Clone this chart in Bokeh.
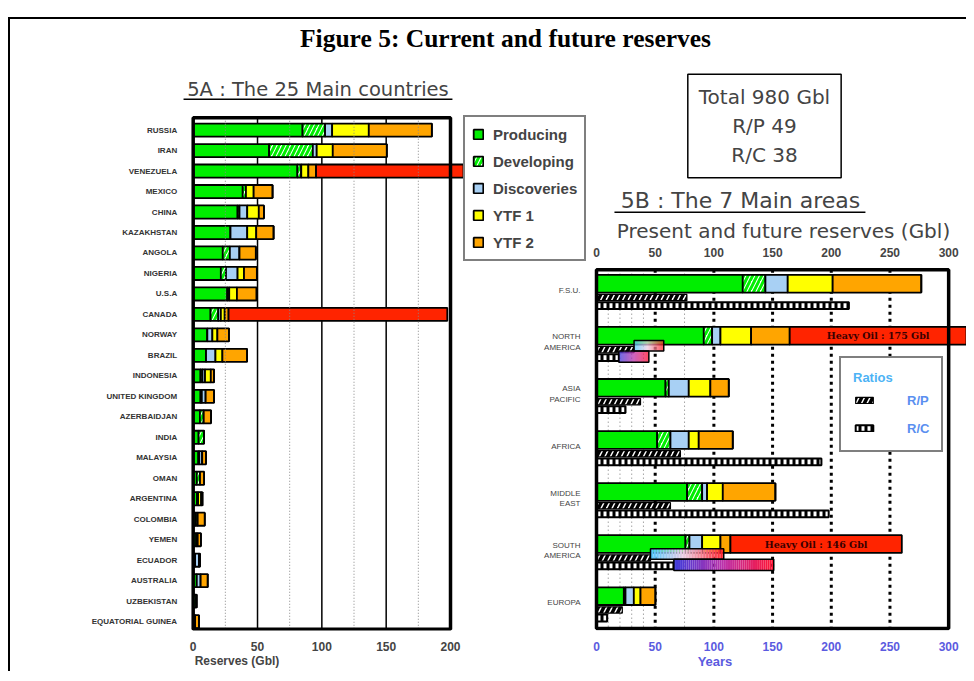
import numpy as np
from bokeh.plotting import figure
from bokeh.models import (ColumnDataSource, Range1d, FixedTicker, Label, BoxAnnotation,
                          Legend, LegendItem, LinearAxis, Div)
from bokeh.layouts import column, row
from bokeh.embed import file_html
from bokeh.resources import INLINE
from bokeh.core.properties import value

# ---------------- 5A : the 25 main countries (Gbl) ----------------
countries = ["RUSSIA", "IRAN", "VENEZUELA", "MEXICO", "CHINA", "KAZAKHSTAN", "ANGOLA",
             "NIGERIA", "U.S.A", "CANADA", "NORWAY", "BRAZIL", "INDONESIA",
             "UNITED KINGDOM", "AZERBAIDJAN", "INDIA", "MALAYSIA", "OMAN", "ARGENTINA",
             "COLOMBIA", "YEMEN", "ECUADOR", "AUSTRALIA", "UZBEKISTAN", "EQUATORIAL GUINEA"]
c_producing = [85, 59, 81, 38.5, 34.5, 29, 23, 21.5, 26.5, 13.5, 11, 10, 5.7, 5.7, 5.2,
               4.2, 4, 2.8, 3, 2, 2.3, 1.5, 2.8, 0, 0]
c_developing = [17.5, 34, 3, 2.5, 1.5, 0, 5.5, 4, 1.5, 6, 0, 0, 1.5, 1, 3,
                4.3, 0.7, 2.5, 0.8, 1.5, 1.2, 0, 0, 2.5, 1.5]
c_discoveries = [5.5, 3, 0, 0, 6, 13, 7.5, 9, 0, 2, 3.9, 7.3, 2, 3, 0,
                 0, 2.3, 0, 0, 0, 0, 3, 3, 0, 0]
c_ytf1 = [28.5, 12.5, 5.5, 6, 9, 7, 0, 5, 6, 3, 3.9, 5.4, 4.5, 0, 0,
          0, 0, 0, 2.4, 0, 0, 0, 0, 0, 0]
c_ytf2 = [49, 42, 6, 14.7, 4, 13.5, 12.7, 10, 15.3, 3, 9, 19.2, 2.5, 6.5, 5.7,
          0, 3, 3.2, 1, 5.5, 2.5, 0.8, 5.5, 0, 3]
c_heavy = [0, 0, 150, 0, 0, 0, 0, 0, 0, 170, 0, 0, 0, 0, 0,
           0, 0, 0, 0, 0, 0, 0, 0, 0, 0]
x_ticks_5a = [0, 50, 100, 150, 200]
grid_solid_5a = [50, 100, 150]
grid_dotted_5a = [25, 75, 125, 175]

# ---------------- 5B : the 7 main areas ----------------
areas = ["F.S.U.", "NORTH\nAMERICA", "ASIA\nPACIFIC", "AFRICA", "MIDDLE\nEAST",
         "SOUTH\nAMERICA", "EUROPA"]
a_producing = [124.6, 91.4, 58.8, 51.7, 77.2, 75.8, 23.3]
a_developing = [19.3, 7.1, 2.8, 11.3, 12.8, 3.4, 1.4]
a_discoveries = [19, 7.1, 17, 15.6, 4.2, 10.8, 7.1]
a_ytf1 = [38.3, 26.1, 18.4, 8.5, 13.4, 15.6, 5.7]
a_ytf2 = [75.5, 32.9, 15.7, 29, 44.8, 8.5, 12.7]
a_heavy = [0, 175, 0, 0, 0, 146, 0]
a_rp = [77, 32, 37.5, 71.5, 63, 46, 22]            # years
a_rc = [215, 19, 24.7, 191.6, 197.8, 65.9, 9.1]     # years
a_rp_heavy = [0, 57.3, 0, 0, 0, 108.4, 0]
a_rc_heavy = [0, 44.6, 0, 0, 0, 151, 0]
heavy_text = ["", "Heavy Oil : 175 Gbl", "", "", "", "Heavy Oil : 146 Gbl", ""]
x_ticks_5b = [0, 50, 100, 150, 200, 250, 300]
grid_thick_5b = [50, 100, 150, 200, 250]
grid_thin_5b = [10, 20, 30, 40, 75]
summary = ["Total 980 Gbl", "R/P 49", "R/C 38"]

GREEN, BLUE, YELLOW, ORANGE, RED = "#00ee00", "#a8d0f4", "#ffff00", "#ffa500", "#ff2400"
stack_names = ["producing", "developing", "discoveries", "ytf1", "ytf2", "heavy"]
stack_fill = [GREEN, "white", BLUE, YELLOW, ORANGE, RED]
stack_hatch = [" ", "/", " ", " ", " ", " "]
legend_names = ["Producing", "Developing", "Discoveries", "YTF 1", "YTF 2"]
HAND = "DejaVu Sans"

FRAME_H = 581
BOTTOM = 34

# ================= figure 5A =================
nC = len(countries)
yA = list(range(nC))
srcA = ColumnDataSource(dict(y=yA, producing=c_producing, developing=c_developing,
                             discoveries=c_discoveries, ytf1=c_ytf1, ytf2=c_ytf2,
                             heavy=c_heavy))
A_box_top, A_box_bot = -0.603, 24.37
pA = figure(width=453, height=FRAME_H + BOTTOM, x_range=Range1d(-142.0, 210.1),
            y_range=Range1d(24.434, -3.594), output_backend="svg", toolbar_location=None,
            min_border_left=0, min_border_right=0, min_border_top=0,
            min_border_bottom=BOTTOM, outline_line_color=None, title=None)
pA.xgrid.visible = False
pA.ygrid.visible = False
pA.segment(x0=grid_solid_5a, x1=grid_solid_5a, y0=A_box_top, y1=A_box_bot,
           line_color="black", line_width=1.5)
pA.hbar_stack(stack_names, y="y", height=0.64, source=srcA, fill_color=stack_fill,
              hatch_pattern=stack_hatch, hatch_color=GREEN, hatch_weight=3, hatch_scale=9,
              line_color="black", line_width=1.8)
pA.segment(x0=grid_dotted_5a, x1=grid_dotted_5a, y0=A_box_top, y1=A_box_bot,
           line_color="#888888", line_width=1, line_dash="1 2")
pA.quad(left=[x_ticks_5a[0]], right=[x_ticks_5a[-1]], top=[A_box_top], bottom=[A_box_bot],
        fill_color=None, line_color="black", line_width=3.5)

pA.xaxis.ticker = FixedTicker(ticks=x_ticks_5a)
pA.xaxis.axis_line_color = None
pA.xaxis.major_tick_line_color = None
pA.xaxis.minor_tick_line_color = None
pA.xaxis.major_label_text_font = "Liberation Sans"
pA.xaxis.major_label_text_font_size = "12px"
pA.xaxis.major_label_text_font_style = "bold"
pA.xaxis.major_label_standoff = 5
pA.xaxis.axis_label = "Reserves (Gbl)"
pA.xaxis.axis_label_text_font = "Liberation Sans"
pA.xaxis.axis_label_text_font_size = "12px"
pA.xaxis.axis_label_text_font_style = "bold"
pA.xaxis.axis_label_standoff = 0

pA.yaxis.fixed_location = 0
pA.yaxis.ticker = FixedTicker(ticks=yA)
pA.yaxis.major_label_overrides = {i: c for i, c in zip(yA, countries)}
pA.yaxis.axis_line_color = None
pA.yaxis.major_tick_line_color = None
pA.yaxis.minor_tick_line_color = None
pA.yaxis.major_label_text_font = "Liberation Sans"
pA.yaxis.major_label_text_font_size = "8px"
pA.yaxis.major_label_text_font_style = "bold"
pA.yaxis.major_label_text_color = "#333333"
pA.yaxis.major_label_standoff = 10

pA.add_layout(Label(x=97.0, y=-1.98, text="5A : The 25 Main countries", text_align="center",
                    text_baseline="middle", text_font=HAND, text_font_size="19.5px"))
pA.add_layout(BoxAnnotation(left=-7.5, right=201.5, top=-1.545, bottom=-1.47,
                            fill_color="black", fill_alpha=1, line_color=None))

# ================= figure 5B =================
nA = len(areas)
yB = np.arange(nA)
cum_main = (np.array(a_producing) + np.array(a_developing) + np.array(a_discoveries)
            + np.array(a_ytf1) + np.array(a_ytf2))
xB_min, xB_max = -113.3, 315.2
srcB = ColumnDataSource(dict(y=yB, producing=a_producing, developing=a_developing,
                             discoveries=a_discoveries, ytf1=a_ytf1, ytf2=a_ytf2,
                             heavy=a_heavy, rp=a_rp, rc=a_rc,
                             y_rp=yB + 0.266, y_rc=yB + 0.42))
B_box_top, B_box_bot = -0.27, 6.622
pB = figure(width=503, height=FRAME_H + BOTTOM, x_range=Range1d(xB_min, xB_max),
            y_range=Range1d(6.66, -4.364), output_backend="svg", toolbar_location=None,
            min_border_left=0, min_border_right=0, min_border_top=0,
            min_border_bottom=BOTTOM, outline_line_color=None, title=None)
pB.xgrid.visible = False
pB.ygrid.visible = False
pB.segment(x0=grid_thin_5b, x1=grid_thin_5b, y0=B_box_top, y1=B_box_bot,
           line_color="#777777", line_width=1, line_dash="1 3")
pB.segment(x0=grid_thick_5b, x1=grid_thick_5b, y0=B_box_top, y1=B_box_bot,
           line_color="black", line_width=3, line_dash="3 4")

rB = pB.hbar_stack(stack_names, y="y", height=0.34, source=srcB, fill_color=stack_fill,
                   hatch_pattern=stack_hatch, hatch_color=GREEN, hatch_weight=3,
                   hatch_scale=9, line_color="black", line_width=1.8)
r_rp = pB.hbar(y="y_rp", left=0, right="rp", height=0.12, source=srcB, fill_color="white",
               hatch_pattern="/", hatch_color="black", hatch_weight=3.5, hatch_scale=11,
               line_color="black", line_width=1.2)
r_rc = pB.hbar(y="y_rc", left=0, right="rc", height=0.13, source=srcB, fill_color="black",
               hatch_pattern="|", hatch_color="white", hatch_weight=3, hatch_scale=6,
               line_color="black", line_width=2)

# gradient ratio bars including heavy oil
def grad_colors(stops, n):
    t = (np.arange(n) + 0.5) / n
    ts = [s[0] for s in stops]
    out = []
    for tt in t:
        rgb = [int(np.interp(tt, ts, [s[1][k] for s in stops])) for k in range(3)]
        out.append("#%02x%02x%02x" % tuple(rgb))
    return out

g1_stops = [(0, (80, 200, 255)), (0.45, (235, 205, 228)), (1, (255, 30, 40))]
g2_stops = [(0, (60, 60, 220)), (0.5, (190, 50, 170)), (1, (255, 20, 50))]
gl, gr, gt, gb, gc = [], [], [], [], []
ol, orr, ot, ob = [], [], [], []
nseg = 48
for i in range(nA):
    for start, end, off, h, stops in ((a_rp[i], a_rp_heavy[i], 0.19, 0.2, g1_stops),
                                     (a_rc[i], a_rc_heavy[i], 0.40, 0.22, g2_stops)):
        if end <= 0:
            continue
        edges = np.linspace(start, end, nseg + 1)
        gl += list(edges[:-1]); gr += list(edges[1:])
        gt += [yB[i] + off - h / 2] * nseg; gb += [yB[i] + off + h / 2] * nseg
        gc += grad_colors(stops, nseg)
        ol.append(start); orr.append(end); ot.append(yB[i] + off - h / 2); ob.append(yB[i] + off + h / 2)
pB.quad(left=gl, right=gr, top=gt, bottom=gb, fill_color=gc, line_color=None)
pB.quad(left=ol, right=orr, top=ot, bottom=ob, fill_color=None, line_color="black", line_width=1.5)

# heavy oil texts
hx, hy, ht = [], [], []
for i in range(nA):
    if a_heavy[i] > 0:
        hx.append((cum_main[i] + min(cum_main[i] + a_heavy[i], xB_max)) / 2)
        hy.append(yB[i]); ht.append(heavy_text[i])
pB.text(x=hx, y=hy, text=ht, text_font=value("DejaVu Serif"), text_font_size=value("9.5px"),
        text_font_style="bold", text_color="#3a0000", text_align="center",
        text_baseline="middle")

pB.quad(left=[x_ticks_5b[0]], right=[x_ticks_5b[-1]], top=[B_box_top], bottom=[B_box_bot],
        fill_color=None, line_color="black", line_width=3.5)

# axes
bot = pB.below[0]
bot.ticker = FixedTicker(ticks=x_ticks_5b)
bot.axis_line_color = None
bot.major_tick_line_color = None
bot.minor_tick_line_color = None
bot.major_label_text_font = "Liberation Sans"
bot.major_label_text_font_size = "12px"
bot.major_label_text_font_style = "bold"
bot.major_label_text_color = "#5b5be0"
bot.major_label_standoff = 5
bot.axis_label = "Years"
bot.axis_label_text_font = "Liberation Sans"
bot.axis_label_text_font_size = "13px"
bot.axis_label_text_font_style = "bold"
bot.axis_label_text_color = "#5b5be0"
bot.axis_label_standoff = 0

top_ax = LinearAxis(ticker=FixedTicker(ticks=x_ticks_5b), fixed_location=B_box_top,
                    axis_line_color=None, major_tick_line_color=None,
                    minor_tick_line_color=None, major_label_text_font="Liberation Sans",
                    major_label_text_font_size="12px", major_label_text_font_style="bold",
                    major_label_standoff=7)
pB.add_layout(top_ax, "above")

ytk = [float(i) + 0.125 for i in range(nA)]
pB.yaxis.fixed_location = 0
pB.yaxis.ticker = FixedTicker(ticks=ytk)
pB.yaxis.major_label_overrides = {t: a for t, a in zip(ytk, areas)}
pB.yaxis.axis_line_color = None
pB.yaxis.major_tick_line_color = None
pB.yaxis.minor_tick_line_color = None
pB.yaxis.major_label_text_font = "Liberation Sans"
pB.yaxis.major_label_text_font_size = "8px"
pB.yaxis.major_label_standoff = 10

# legend of reserve categories (for both charts)
legA = Legend(items=[LegendItem(label=n, renderers=[r]) for n, r in zip(legend_names, rB[:5])],
              location=(0, 369), border_line_color="black", border_line_width=2,
              background_fill_color="white", background_fill_alpha=1,
              label_text_font="Liberation Sans", label_text_font_size="15px",
              label_text_font_style="bold",
              glyph_width=12, glyph_height=12, label_height=20, spacing=7, padding=7,
              margin=0, label_standoff=9)
pB.add_layout(legA)

legR = Legend(items=[LegendItem(label="R/P", renderers=[r_rp]),
                     LegendItem(label="R/C", renderers=[r_rc])],
              title="Ratios", title_text_color="#4db3f5", title_text_font_style="bold",
              title_text_font="Liberation Sans", title_text_font_size="13px",
              location=(376, 178), border_line_color="black", border_line_width=2,
              background_fill_color="white", background_fill_alpha=1,
              label_text_font="Liberation Sans", label_text_font_size="13px",
              label_text_font_style="bold", label_text_color="#5a8ff0",
              glyph_width=22, glyph_height=8, label_height=20, spacing=8, padding=12,
              margin=0, label_standoff=32)
pB.add_layout(legR)

pB.add_layout(Label(x=143.1, y=-3.03, text="\n".join(summary), text_align="center",
                    text_baseline="middle", text_font=HAND, text_font_size="20px",
                    border_line_color="black", border_line_width=1.5,
                    background_fill_color="white", padding=11))
pB.add_layout(Label(x=122.7, y=-1.60, text="5B : The 7 Main areas", text_align="center",
                    text_baseline="middle", text_font=HAND, text_font_size="22px"))
pB.add_layout(BoxAnnotation(left=15.3, right=229.1, top=-1.388, bottom=-1.357,
                            fill_color="black", fill_alpha=1, line_color=None))
pB.add_layout(Label(x=159.3, y=-1.006, text="Present and future reserves (Gbl)",
                    text_align="center", text_baseline="middle", text_font=HAND,
                    text_font_size="20px"))

title_div = Div(text="<div style=\"font-family:'Liberation Serif';font-weight:bold;"
                     "font-size:25.5px;line-height:28px;padding-top:6px;padding-left:290px;"
                     "white-space:nowrap\">Figure 5: Current and future reserves</div>",
                width=956, height=37, margin=(0, 0, 0, 0))

layout = column(title_div, row(pA, pB), margin=(17, 0, 0, 8),
                styles={"border-top": "2px solid black", "border-left": "2px solid black"})

open("out.html", "w").write(file_html(layout, INLINE))
